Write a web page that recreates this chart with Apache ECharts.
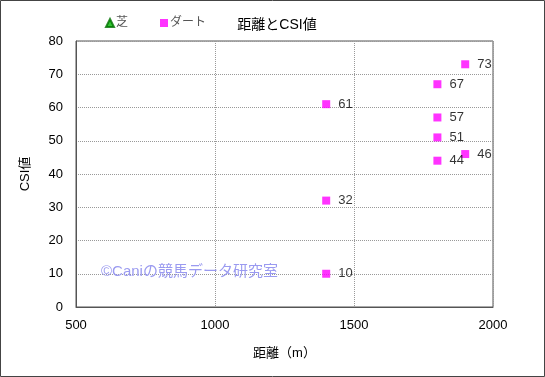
<!DOCTYPE html>
<html>
<head>
<meta charset="utf-8">
<script src="https://cdn.jsdelivr.net/npm/echarts@6/dist/echarts.min.js"></script>
<style>
html,body{margin:0;padding:0;background:#fff;}
#chart{width:545px;height:377px;}
</style>
</head>
<body>
<div id="chart"></div>
<script>
// 距離とCSI値
var legendNames = ['芝', 'ダート'];
var turfData = [];   // 芝: no points
var dirtDistance = [1400, 1400, 1400, 1800, 1800, 1800, 1800, 1900, 1900];
var dirtCsi = [61, 32, 10, 67, 57, 51, 44, 73, 46];
var xTicks = [500, 1000, 1500, 2000];
var yTicks = [0, 10, 20, 30, 40, 50, 60, 70, 80];

var font = '"Liberation Sans", "Noto Sans CJK JP", sans-serif';

var dirtData = [];
for (var i = 0; i < dirtDistance.length; i++) {
	dirtData.push([dirtDistance[i], dirtCsi[i]]);
}

var myChart = echarts.init(document.getElementById('chart'));
var option = {
	backgroundColor: '#fff',
	animation: false,
	title: {
		text: '距離とCSI値',
		left: 272,
		top: 13,
		textAlign: 'center',
		textStyle: {fontFamily: font, fontSize: 14, fontWeight: 'normal', color: '#000'}
	},
	legend: {
		data: [
			{name: legendNames[0], icon: 'triangle'},
			{name: legendNames[1], icon: 'rect'}
		],
		left: 100,
		top: 12,
		itemWidth: 8,
		itemHeight: 8,
		itemGap: 32,
		textStyle: {fontFamily: font, fontSize: 12, color: '#555', padding: [0, 0, 0, -3]}
	},
	grid: {left: 76, right: 52, top: 41, bottom: 70, show: true, borderColor: '#555', borderWidth: 1},
	xAxis: {
		type: 'value',
		min: xTicks[0],
		max: xTicks[xTicks.length - 1],
		interval: 500,
		name: '距離（m）',
		nameLocation: 'middle',
		nameGap: 40,
		nameTextStyle: {fontFamily: font, fontSize: 13, color: '#000'},
		axisLine: {lineStyle: {color: '#555'}},
		axisTick: {show: false},
		axisLabel: {fontFamily: font, fontSize: 13, color: '#000', margin: 12,
			formatter: function (v) { return String(v); }},
		splitLine: {show: true, lineStyle: {color: '#999', type: [1, 1]}}
	},
	yAxis: {
		type: 'value',
		min: yTicks[0],
		max: yTicks[yTicks.length - 1],
		interval: 10,
		name: 'CSI値',
		nameLocation: 'middle',
		nameGap: 44,
		nameTextStyle: {fontFamily: font, fontSize: 13, color: '#000'},
		axisLine: {show: true, lineStyle: {color: '#555'}},
		axisTick: {show: false},
		axisLabel: {fontFamily: font, fontSize: 13, color: '#000', margin: 13},
		splitLine: {show: true, lineStyle: {color: '#999', type: [1, 1]}}
	},
	graphic: [
		{
			type: 'rect',
			shape: {x: 0.5, y: 0.5, width: 544, height: 376},
			style: {fill: 'none', stroke: '#444', lineWidth: 1},
			z: 100
		},
		{
			type: 'text',
			left: 101,
			top: 264,
			style: {text: '©Caniの競馬データ研究室', fill: '#9a9af0', font: '15px ' + font},
			z: 100
		}
	],
	series: [
		{
			name: legendNames[0],
			type: 'scatter',
			symbol: 'triangle',
			symbolSize: 8,
			itemStyle: {color: '#00b800', borderColor: '#007000', borderWidth: 0.5},
			data: turfData
		},
		{
			name: legendNames[1],
			type: 'scatter',
			symbol: 'rect',
			symbolSize: 8,
			itemStyle: {color: '#ff00ff'},
			label: {
				show: true,
				position: 'right',
				distance: 8,
				formatter: function (p) { return p.value[1]; },
				fontFamily: font,
				fontSize: 13,
				color: '#000'
			},
			data: dirtData
		}
	]
};
myChart.setOption(option);
</script>
</body>
</html>
